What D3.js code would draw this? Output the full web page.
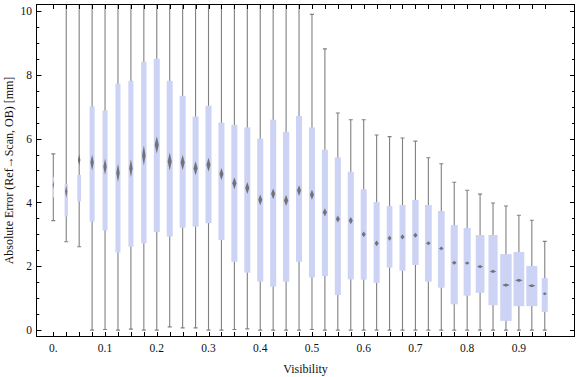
<!DOCTYPE html>
<html>
<head>
<meta charset="utf-8">
<script src="https://cdn.jsdelivr.net/npm/d3@7"></script>
<style>
  body { margin: 0; background: #fff; }
  text { font-family: "Liberation Serif", "Times New Roman", serif; fill: #111; }
</style>
</head>
<body>
<div class="chart-wrapper"></div>
<script>
// visibility bins (box centres)
const visibility = [0, 0.025, 0.05, 0.075, 0.1, 0.125, 0.15, 0.175, 0.2, 0.225, 0.25, 0.275, 0.3, 0.325, 0.35, 0.375, 0.4, 0.425, 0.45, 0.475, 0.5, 0.525, 0.55, 0.575, 0.6, 0.625, 0.65, 0.675, 0.7, 0.725, 0.75, 0.775, 0.8, 0.825, 0.85, 0.875, 0.9, 0.925, 0.95]

const whiskerLow = [3.43, 2.77, 2.61, 0, 0.02, 0, 0.03, 0, 0, 0.1, 0.07, 0.07, 0, 0, 0.02, 0.04, 0, 0, 0, 0, 0.02, 0, 0, 0, 0, 0, 0, 0, 0, 0, 0, 0, 0, 0, 0, 0, 0, 0, 0]
const q1 = [4.16, 3.56, 4.03, 3.40, 3.12, 2.43, 2.61, 2.72, 3.07, 2.93, 3.21, 3.24, 3.35, 2.82, 2.14, 1.80, 1.52, 1.36, 1.52, 2.14, 1.65, 1.69, 1.10, 1.59, 1.58, 1.48, 1.96, 1.86, 2.04, 1.52, 1.33, 0.81, 1.08, 1.17, 0.78, 0.29, 0.75, 0.75, 0.57]
const mean = [4.55, 4.34, 5.33, 5.25, 5.12, 4.92, 5.07, 5.47, 5.80, 5.28, 5.25, 5.07, 5.18, 4.89, 4.60, 4.45, 4.08, 4.27, 4.06, 4.37, 4.24, 3.69, 3.48, 3.43, 3.00, 2.72, 2.88, 2.92, 2.97, 2.72, 2.56, 2.11, 2.10, 1.99, 1.84, 1.41, 1.56, 1.39, 1.14]
const q3 = [4.79, 4.58, 4.86, 7.01, 6.88, 7.72, 7.81, 8.41, 8.50, 7.81, 7.34, 6.69, 7.03, 6.50, 6.43, 6.35, 6.00, 6.59, 6.21, 6.71, 6.35, 5.65, 5.41, 4.96, 4.41, 4.01, 3.89, 3.92, 4.08, 3.92, 3.73, 3.29, 3.20, 2.98, 2.98, 2.38, 2.45, 2.01, 1.63]
const whiskerHigh = [5.52, 11, 11, 11, 11, 11, 11, 11, 11, 11, 11, 11, 11, 11, 11, 11, 11, 11, 11, 11, 9.89, 8.81, 6.80, 6.59, 6.59, 6.11, 6.06, 6.02, 5.92, 5.40, 5.21, 4.63, 4.38, 4.26, 3.98, 3.89, 3.60, 3.44, 2.78]
// uncertainty of the mean (mm), drawn as the diamond
const meanErr = [0.13, 0.19, 0.16, 0.25, 0.25, 0.28, 0.28, 0.31, 0.27, 0.28, 0.24, 0.22, 0.22, 0.19, 0.19, 0.19, 0.17, 0.17, 0.17, 0.17, 0.16, 0.13, 0.11, 0.11, 0.09, 0.09, 0.08, 0.08, 0.08, 0.06, 0.06, 0.06, 0.05, 0.05, 0.05, 0.05, 0.05, 0.05, 0.05]
// relative sample size, sets box width
const relCount = [0.13, 0.29, 0.33, 0.44, 0.44, 0.44, 0.44, 0.47, 0.53, 0.53, 0.53, 0.53, 0.53, 0.53, 0.53, 0.53, 0.53, 0.53, 0.55, 0.53, 0.53, 0.53, 0.53, 0.53, 0.53, 0.53, 0.5, 0.53, 0.56, 0.59, 0.59, 0.62, 0.62, 0.77, 0.8, 1, 0.95, 0.97, 0.53]

const xTickLabels = ['0.', '0.1', '0.2', '0.3', '0.4', '0.5', '0.6', '0.7', '0.8', '0.9']
const xTickValues = [0, 0.1, 0.2, 0.3, 0.4, 0.5, 0.6, 0.7, 0.8, 0.9]
const yTickValues = [0, 2, 4, 6, 8, 10]

const width = 576
const height = 377
const mLeft = 36.5, mRight = 574.5, mTop = 4.5, mBottom = 336.5

const x = d3.scaleLinear()
.domain([-0.0325, 1.0075])
.range([mLeft, mRight])

const y = d3.scaleLinear()
.domain([-0.2, 10.2])
.range([mBottom, mTop])

const boxW = d3.scaleLinear()
.domain([0, 1])
.range([0, 11.4])

const data = visibility.map((v, i) => ({
	v, lo: whiskerLow[i], q1: q1[i], mean: mean[i], q3: q3[i], hi: whiskerHigh[i],
	err: meanErr[i], w: boxW(relCount[i])
}))

const svg = d3.select('.chart-wrapper')
.append('svg')
.attr('width', width)
.attr('height', height)

const defs = svg.append('defs')
defs.append('clipPath').attr('id', 'plot-clip')
.append('rect')
.attr('x', mLeft).attr('y', mTop)
.attr('width', mRight - mLeft).attr('height', mBottom - mTop)

defs.append('filter').attr('id', 'soft')
.attr('x', '-100%').attr('y', '-50%').attr('width', '300%').attr('height', '200%')
.append('feGaussianBlur').attr('stdDeviation', 0.6)

const plot = svg.append('g').attr('clip-path', 'url(#plot-clip)')

const boxes = plot.selectAll('g.box')
.data(data)
.enter()
.append('g')
.attr('class', 'box')

boxes.append('line')
.attr('x1', d => x(d.v)).attr('x2', d => x(d.v))
.attr('y1', d => y(d.lo)).attr('y2', d => y(d.hi))
.attr('stroke', '#808080')
.attr('stroke-width', 1.1)

boxes.selectAll('line.cap')
.data(d => [d.lo, d.hi].map(val => ({ v: d.v, val })))
.enter()
.append('line')
.attr('class', 'cap')
.attr('x1', d => x(d.v) - 2).attr('x2', d => x(d.v) + 2)
.attr('y1', d => y(d.val)).attr('y2', d => y(d.val))
.attr('stroke', '#808080')
.attr('stroke-width', 1.1)

boxes.append('rect')
.attr('x', d => x(d.v) - d.w / 2)
.attr('width', d => d.w)
.attr('y', d => y(d.q3))
.attr('height', d => y(d.q1) - y(d.q3))
.attr('fill', '#cdd3f4')

boxes.append('path')
.attr('d', d => {
	const cx = x(d.v), cy = y(d.mean)
	const hw = Math.max(d.w * 0.34, 0.6), hh = y(0) - y(d.err)
	return `M${cx},${cy - hh}L${cx + hw},${cy}L${cx},${cy + hh}L${cx - hw},${cy}Z`
})
.attr('fill', '#595959')
.attr('opacity', 0.78)
.attr('filter', 'url(#soft)')

// frame
svg.append('rect')
.attr('x', mLeft).attr('y', mTop)
.attr('width', mRight - mLeft).attr('height', mBottom - mTop)
.attr('fill', 'none')
.attr('stroke', '#000')
.attr('stroke-width', 1)

const ticks = svg.append('g').attr('stroke', '#000').attr('stroke-width', 1)

visibility.forEach(v => {
	const px = Math.round(x(v)) + 0.5
	ticks.append('line').attr('x1', px).attr('x2', px).attr('y1', mBottom).attr('y2', mBottom - 4.5)
	ticks.append('line').attr('x1', px).attr('x2', px).attr('y1', mTop).attr('y2', mTop + 4.5)
})

const yMinor = d3.range(0, 10.01, 0.5)
yMinor.forEach(val => {
	const major = yTickValues.includes(val)
	const py = Math.round(y(val)) + 0.5
	ticks.append('line').attr('x1', mLeft).attr('x2', mLeft + (major ? 5 : 2.8)).attr('y1', py).attr('y2', py)
	ticks.append('line').attr('x1', mRight).attr('x2', mRight - (major ? 4.5 : 2.5)).attr('y1', py).attr('y2', py)
})

svg.append('g')
.selectAll('text')
.data(xTickValues)
.enter()
.append('text')
.attr('x', d => x(d))
.attr('y', 352)
.attr('text-anchor', 'middle')
.attr('font-size', 11.5)
.text((d, i) => xTickLabels[i])

svg.append('g')
.selectAll('text')
.data(yTickValues)
.enter()
.append('text')
.attr('x', 32)
.attr('y', d => y(d))
.attr('dy', '0.36em')
.attr('text-anchor', 'end')
.attr('font-size', 11.5)
.text(d => d)

svg.append('text')
.attr('x', (mLeft + mRight) / 2)
.attr('y', 373)
.attr('text-anchor', 'middle')
.attr('font-size', 12)
.text('Visibility')

svg.append('text')
.attr('transform', `translate(13,${(mTop + mBottom) / 2}) rotate(-90)`)
.attr('text-anchor', 'middle')
.attr('font-size', 12)
.text('Absolute Error (Ref→Scan, OB) [mm]')
</script>
</body>
</html>
